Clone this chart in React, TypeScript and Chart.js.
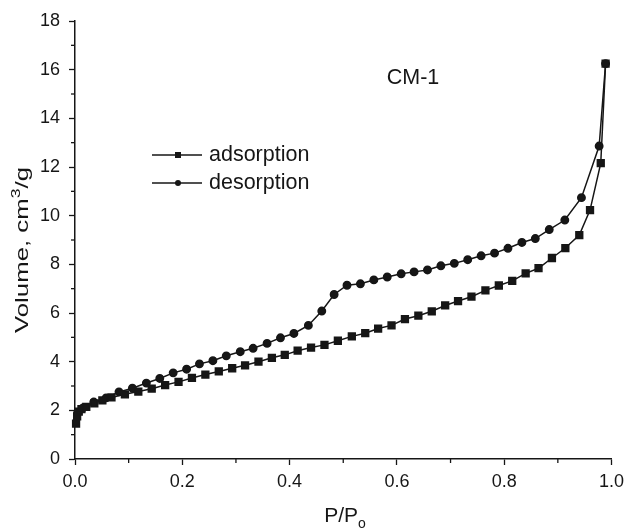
import { useEffect, useRef } from "react";
import { Chart, registerables } from "chart.js";

Chart.register(...registerables);

// Relative pressure P/Po and adsorbed volume (cm3/g)
const adsorptionX = [
  0.002, 0.004, 0.007, 0.012, 0.021, 0.036, 0.051, 0.068, 0.093, 0.118,
  0.143, 0.168, 0.193, 0.218, 0.243, 0.268, 0.293, 0.317, 0.342, 0.367,
  0.391, 0.415, 0.44, 0.465, 0.49, 0.516, 0.541, 0.565, 0.59, 0.615,
  0.64, 0.665, 0.69, 0.714, 0.739, 0.765, 0.79, 0.815, 0.84, 0.864,
  0.889, 0.914, 0.94, 0.96, 0.98, 0.989,
];
const adsorptionY = [
  1.45, 1.75, 1.95, 2.05, 2.14, 2.29, 2.41, 2.53, 2.66, 2.77,
  2.89, 3.04, 3.17, 3.33, 3.47, 3.6, 3.73, 3.85, 4.0, 4.16,
  4.28, 4.45, 4.58, 4.69, 4.86, 5.04, 5.17, 5.36, 5.49, 5.75,
  5.89, 6.07, 6.31, 6.49, 6.67, 6.93, 7.13, 7.32, 7.63, 7.84,
  8.26, 8.67, 9.2, 10.23, 12.16, 16.25,
];
const desorptionX = [
  0.989, 0.977, 0.944, 0.913, 0.884, 0.858, 0.833, 0.807, 0.782, 0.757,
  0.732, 0.707, 0.682, 0.657, 0.632, 0.608, 0.582, 0.557, 0.532, 0.507,
  0.483, 0.46, 0.435, 0.408, 0.383, 0.358, 0.332, 0.308, 0.282, 0.257,
  0.232, 0.208, 0.183, 0.158, 0.133, 0.107, 0.082, 0.058, 0.035, 0.015,
  0.005,
];
const desorptionY = [
  16.25, 12.86, 10.74, 9.82, 9.43, 9.06, 8.9, 8.66, 8.46, 8.35,
  8.19, 8.04, 7.94, 7.77, 7.69, 7.61, 7.48, 7.36, 7.2, 7.14,
  6.76, 6.08, 5.49, 5.16, 4.98, 4.75, 4.55, 4.41, 4.24, 4.04,
  3.91, 3.69, 3.54, 3.31, 3.12, 2.91, 2.76, 2.51, 2.34, 2.1,
  1.9,
];

const seriesLabels = ["adsorption", "desorption"];
const seriesMarkers = ["rect", "circle"];
const sampleName = "CM-1";
const xTitleMain = "P/P";
const xTitleSub = "o";
const yTitleParts = ["Volume, cm", "3", "/g"];
const xRange = [0, 1];
const yRange = [0, 18];
const xStep = 0.2;
const yStep = 2;

const FONT = "'Liberation Sans', Arial, Helvetica, sans-serif";
const INK = "#161616";

export default function App() {
  const canvasRef = useRef<HTMLCanvasElement | null>(null);

  useEffect(() => {
    const canvas = canvasRef.current;
    if (!canvas) return;

    const minorTicks = {
      id: "minorTicks",
      afterDraw(chart: any) {
        const { ctx, chartArea } = chart;
        const xs = chart.scales.x;
        const ys = chart.scales.y;
        ctx.save();
        ctx.strokeStyle = INK;
        ctx.lineWidth = 1.3;
        const xt = xs.ticks.map((t: any) => t.value);
        for (let i = 0; i < xt.length - 1; i++) {
          const px = xs.getPixelForValue((xt[i] + xt[i + 1]) / 2);
          ctx.beginPath();
          ctx.moveTo(px, chartArea.bottom);
          ctx.lineTo(px, chartArea.bottom + 4);
          ctx.stroke();
        }
        const yt = ys.ticks.map((t: any) => t.value);
        for (let i = 0; i < yt.length - 1; i++) {
          const py = ys.getPixelForValue((yt[i] + yt[i + 1]) / 2);
          ctx.beginPath();
          ctx.moveTo(chartArea.left, py);
          ctx.lineTo(chartArea.left - 4, py);
          ctx.stroke();
        }
        ctx.restore();
      },
    };

    const drawMarker = (ctx: CanvasRenderingContext2D, style: string, x: number, y: number, r: number) => {
      ctx.beginPath();
      if (style === "rect") {
        ctx.rect(x - r, y - r, 2 * r, 2 * r);
      } else {
        ctx.arc(x, y, r, 0, Math.PI * 2);
      }
      ctx.fill();
    };

    const annotations = {
      id: "annotations",
      afterDraw(chart: any) {
        const { ctx } = chart;
        ctx.save();
        ctx.fillStyle = INK;
        ctx.strokeStyle = INK;

        // legend
        const rows = [155, 183];
        seriesLabels.forEach((label, i) => {
          const y = rows[i];
          ctx.lineWidth = 1.5;
          ctx.beginPath();
          ctx.moveTo(152, y);
          ctx.lineTo(202, y);
          ctx.stroke();
          drawMarker(ctx, seriesMarkers[i], 178, y, 3);
          ctx.font = `21.5px ${FONT}`;
          ctx.textAlign = "left";
          ctx.textBaseline = "middle";
          ctx.fillText(label, 209, y);
        });

        // sample label
        ctx.font = `21.5px ${FONT}`;
        ctx.textAlign = "center";
        ctx.textBaseline = "middle";
        ctx.fillText(sampleName, 413, 78);

        // x title with subscript
        ctx.textBaseline = "alphabetic";
        ctx.textAlign = "left";
        ctx.font = `21px ${FONT}`;
        const wMain = ctx.measureText(xTitleMain).width;
        ctx.font = `14px ${FONT}`;
        const wSub = ctx.measureText(xTitleSub).width;
        const startX = 345 - (wMain + wSub) / 2;
        ctx.font = `21px ${FONT}`;
        ctx.fillText(xTitleMain, startX, 522);
        ctx.font = `14px ${FONT}`;
        ctx.fillText(xTitleSub, startX + wMain, 528);

        // y title with superscript, rotated
        const bigF = `19px ${FONT}`;
        const smallF = `13px ${FONT}`;
        ctx.font = bigF;
        const w0 = ctx.measureText(yTitleParts[0]).width;
        const w2 = ctx.measureText(yTitleParts[2]).width;
        ctx.font = smallF;
        const w1 = ctx.measureText(yTitleParts[1]).width;
        const total = w0 + w1 + w2;
        const targetLen = 166;
        ctx.translate(28, 250);
        ctx.rotate(-Math.PI / 2);
        ctx.scale(targetLen / total, 1);
        let cx = -total / 2;
        ctx.font = bigF;
        ctx.fillText(yTitleParts[0], cx, 0);
        cx += w0;
        ctx.font = smallF;
        ctx.fillText(yTitleParts[1], cx, -8);
        cx += w1;
        ctx.font = bigF;
        ctx.fillText(yTitleParts[2], cx, 0);
        ctx.restore();
      },
    };

    const makeData = (xs: number[], ys: number[]) => xs.map((x, i) => ({ x, y: ys[i] }));

    const chart = new Chart(canvas, {
      type: "line",
      data: {
        datasets: [
          {
            label: seriesLabels[0],
            data: makeData(adsorptionX, adsorptionY),
            borderColor: INK,
            backgroundColor: INK,
            borderWidth: 1.5,
            pointStyle: seriesMarkers[0] as any,
            pointRadius: 4.8,
            pointBackgroundColor: INK,
            pointBorderColor: INK,
            tension: 0,
            clip: 10,
          },
          {
            label: seriesLabels[1],
            data: makeData(desorptionX, desorptionY),
            borderColor: INK,
            backgroundColor: INK,
            borderWidth: 1.5,
            pointStyle: seriesMarkers[1] as any,
            pointRadius: 3.7,
            pointBackgroundColor: INK,
            pointBorderColor: INK,
            tension: 0,
            clip: 10,
          },
        ],
      },
      options: {
        animation: false,
        responsive: true,
        maintainAspectRatio: false,
        layout: { padding: { left: 0, top: 21, right: 17, bottom: 0 } },
        plugins: {
          legend: { display: false },
          tooltip: { enabled: false },
          title: { display: false },
        },
        scales: {
          x: {
            type: "linear",
            min: xRange[0],
            max: xRange[1],
            afterFit: (s: any) => {
              s.height = 69;
            },
            ticks: {
              stepSize: xStep,
              callback: (v: any) => Number(v).toFixed(1),
              font: { family: FONT, size: 18 },
              color: INK,
              padding: 6,
              maxRotation: 0,
            },
            grid: {
              display: true,
              drawOnChartArea: false,
              drawTicks: true,
              tickLength: 6,
              tickColor: INK,
              tickWidth: 1.3,
            },
            border: { display: true, color: INK, width: 1.5 },
          },
          y: {
            type: "linear",
            min: yRange[0],
            max: yRange[1],
            afterFit: (s: any) => {
              s.width = 75;
            },
            ticks: {
              stepSize: yStep,
              font: { family: FONT, size: 18 },
              color: INK,
              padding: 9,
            },
            grid: {
              display: true,
              drawOnChartArea: false,
              drawTicks: true,
              tickLength: 6,
              tickColor: INK,
              tickWidth: 1.3,
            },
            border: { display: true, color: INK, width: 1.5 },
          },
        },
      },
      plugins: [minorTicks, annotations],
    });

    return () => chart.destroy();
  }, []);

  return (
    <div style={{ position: "absolute", left: 0, top: 0, width: 630, height: 528, background: "#fff" }}>
      <canvas ref={canvasRef} />
    </div>
  );
}
